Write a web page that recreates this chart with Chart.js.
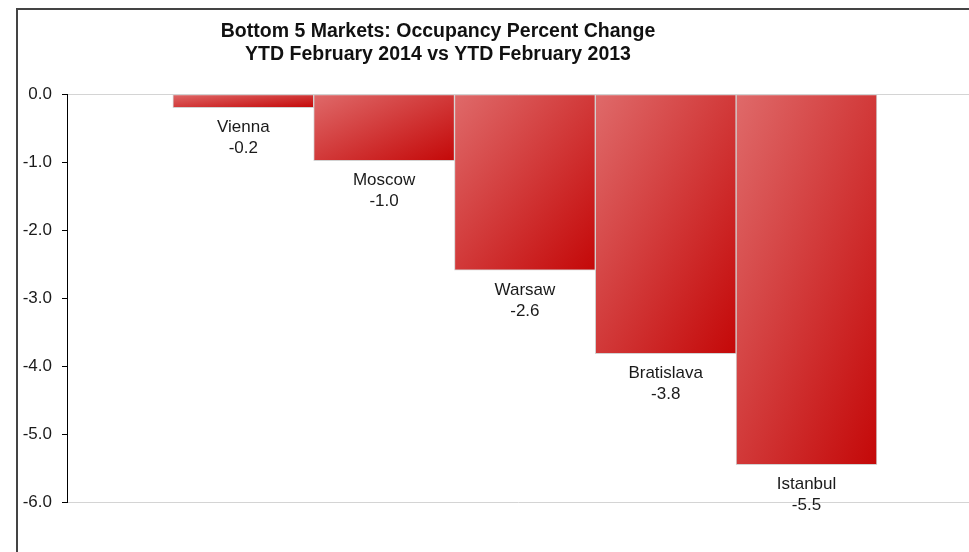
<!DOCTYPE html>
<html>
<head>
<meta charset="utf-8">
<script src="https://cdn.jsdelivr.net/npm/chart.js@4"></script>
<style>
  html, body { margin: 0; padding: 0; background: #fff; }
  #wrap { position: relative; width: 969px; height: 552px; }
</style>
</head>
<body>
<div id="wrap"><canvas id="chart"></canvas></div>
<script>
const titleLines = ['Bottom 5 Markets: Occupancy Percent Change', 'YTD February 2014 vs YTD February 2013'];
const categories = ['Vienna', 'Moscow', 'Warsaw', 'Bratislava', 'Istanbul'];
const changes = [-0.2, -0.98, -2.59, -3.82, -5.45];
const yTickValues = [0, -1, -2, -3, -4, -5, -6];

const FONT = '"Liberation Sans", Arial, sans-serif';

// diagonal gradient per bar, light top-left to dark bottom-right
function barFill(c) {
    const chart = c.chart;
    const xs = chart.scales.x, ys = chart.scales.y;
    if (c.type !== 'data' || !xs || !ys || !chart.chartArea) return '#d04040';
    const i = c.dataIndex;
    const left = xs.getPixelForValue(i - 0.5), right = xs.getPixelForValue(i + 0.5);
    const top = ys.getPixelForValue(0), bottom = ys.getPixelForValue(changes[i]);
    const w = right - left, h = bottom - top;
    const cx = (left + right) / 2, cy = (top + bottom) / 2;
    const k = w * h / (w * w + h * h);
    const g = chart.ctx.createLinearGradient(cx - h * k, cy - w * k, cx + h * k, cy + w * k);
    g.addColorStop(0, '#df6a6a');
    g.addColorStop(1, '#c40808');
    return g;
}

const frame = {
    id: 'frame',
    beforeDraw(chart) {
        const ctx = chart.ctx;
        ctx.save();
        ctx.fillStyle = '#fff';
        ctx.fillRect(0, 0, chart.width, chart.height);
        ctx.fillStyle = '#444';
        ctx.fillRect(17, 8, chart.width - 17, 2);
        ctx.fillRect(16, 8, 2, chart.height - 8);
        ctx.restore();
    },
    afterDraw(chart) {
        const ctx = chart.ctx;
        ctx.save();
        ctx.fillStyle = '#111';
        ctx.textAlign = 'center';
        ctx.textBaseline = 'middle';
        ctx.font = 'bold 19.5px ' + FONT;
        ctx.fillText(titleLines[0], 438, 32);
        ctx.fillText(titleLines[1], 438, 55);
        ctx.restore();
    }
};

const barLabels = {
    id: 'barLabels',
    afterDatasetsDraw(chart) {
        const ctx = chart.ctx;
        const meta = chart.getDatasetMeta(0);
        ctx.save();
        ctx.font = '17px ' + FONT;
        ctx.fillStyle = '#1a1a1a';
        ctx.textAlign = 'center';
        ctx.textBaseline = 'middle';
        meta.data.forEach((bar, i) => {
            ctx.fillText(categories[i], bar.x, bar.y + 20);
            ctx.fillText(changes[i].toFixed(1), bar.x, bar.y + 41);
        });
        ctx.restore();
    }
};

new Chart(document.getElementById('chart'), {
    type: 'bar',
    data: {
        datasets: [{
            data: changes.map((v, i) => ({ x: i, y: v })),
            backgroundColor: barFill,
            borderColor: '#d2d2d2',
            borderWidth: 1,
            borderSkipped: false,
            barPercentage: 1,
            categoryPercentage: 1
        }]
    },
    options: {
        responsive: true,
        maintainAspectRatio: false,
        animation: false,
        events: [],
        layout: { padding: { top: 94, bottom: 50, left: 0, right: 0 } },
        plugins: { legend: { display: false }, tooltip: { enabled: false } },
        scales: {
            x: {
                type: 'linear',
                display: false,
                offset: false,
                min: -1.252,
                max: 5.154,
                ticks: { stepSize: 1, includeBounds: false }
            },
            y: {
                min: -6,
                max: 0,
                afterBuildTicks: s => { s.ticks = yTickValues.map(v => ({ value: v })); },
                afterFit: s => { s.width = 67; },
                border: { display: true, color: '#000', width: 1 },
                grid: {
                    color: c => (c.tick && (c.tick.value === 0 || c.tick.value === -6)) ? '#d4d4d4' : 'rgba(0,0,0,0)',
                    borderDash: c => (c.tick && c.tick.value === -6) ? [2, 2] : [],
                    tickColor: '#000',
                    tickLength: 5,
                    drawTicks: true
                },
                ticks: {
                    padding: 10,
                    color: '#1a1a1a',
                    font: { family: FONT, size: 17 },
                    callback: v => v.toFixed(1)
                }
            }
        }
    },
    plugins: [frame, barLabels]
});
</script>
</body>
</html>
